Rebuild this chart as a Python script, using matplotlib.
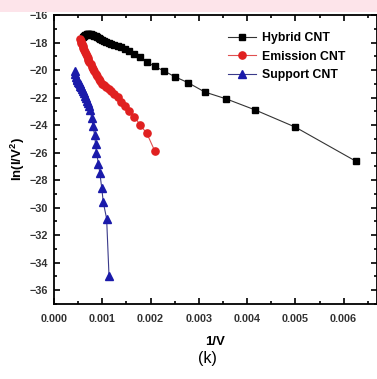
import matplotlib
matplotlib.use("Agg")
import matplotlib.pyplot as plt
from matplotlib.patches import Rectangle
from matplotlib.ticker import MultipleLocator, FormatStrFormatter

plt.rcParams['font.family'] = ['Liberation Sans', 'DejaVu Sans']
plt.rcParams['mathtext.fontset'] = 'custom'
plt.rcParams['mathtext.rm'] = 'Liberation Sans:bold'
plt.rcParams['mathtext.it'] = 'Liberation Sans:bold'
plt.rcParams['mathtext.bf'] = 'Liberation Sans:bold'

# Hybrid CNT
hybrid_x = [0.000610, 0.000625, 0.000641, 0.000658, 0.000676, 0.000694, 0.000714, 0.000735,
            0.000758, 0.000781, 0.000806, 0.000833, 0.000862, 0.000893, 0.000926, 0.000962,
            0.001000, 0.001042, 0.001087, 0.001136, 0.001190, 0.001250, 0.001316, 0.001389,
            0.001471, 0.001563, 0.001667, 0.001786, 0.001923, 0.002083, 0.002273, 0.002500,
            0.002778, 0.003125, 0.003571, 0.004167, 0.005000, 0.006250]
hybrid_y = [-17.60, -17.52, -17.46, -17.42, -17.40, -17.38, -17.38, -17.39,
            -17.41, -17.44, -17.47, -17.51, -17.56, -17.62, -17.68, -17.74,
            -17.80, -17.87, -17.95, -18.03, -18.10, -18.18, -18.26, -18.35,
            -18.48, -18.65, -18.85, -19.05, -19.40, -19.74, -20.05, -20.48,
            -20.92, -21.60, -22.10, -22.90, -24.15, -26.62]

# Emission CNT
emission_x = [0.000543, 0.000556, 0.000568, 0.000581, 0.000595, 0.000610, 0.000625, 0.000641,
              0.000658, 0.000676, 0.000694, 0.000714, 0.000735, 0.000758, 0.000781, 0.000806,
              0.000833, 0.000862, 0.000893, 0.000926, 0.000962, 0.001000, 0.001042, 0.001087,
              0.001136, 0.001190, 0.001250, 0.001316, 0.001389, 0.001471, 0.001563, 0.001667,
              0.001786, 0.001923, 0.002083]
emission_y = [-17.75, -17.88, -18.00, -18.12, -18.25, -18.38, -18.52, -18.66,
              -18.80, -18.95, -19.10, -19.26, -19.42, -19.58, -19.75, -19.92,
              -20.10, -20.28, -20.46, -20.64, -20.82, -21.00, -21.10, -21.22,
              -21.36, -21.52, -21.72, -21.98, -22.30, -22.62, -22.95, -23.40,
              -24.00, -24.60, -25.85]

# Support CNT
support_x = [0.000430, 0.000440, 0.000455, 0.000470, 0.000485, 0.000500, 0.000515, 0.000530,
             0.000545, 0.000560, 0.000580, 0.000600, 0.000620, 0.000640, 0.000660, 0.000680,
             0.000700, 0.000720, 0.000750, 0.000780, 0.000810, 0.000840, 0.000860, 0.000880,
             0.000920, 0.000950, 0.000990, 0.001020, 0.001090, 0.001140]
support_y = [-20.10, -20.30, -20.48, -20.62, -20.74, -20.84, -20.94, -21.04,
             -21.14, -21.24, -21.38, -21.52, -21.70, -21.88, -22.05, -22.22,
             -22.40, -22.60, -22.90, -23.50, -24.10, -24.70, -25.35, -26.00,
             -26.80, -27.50, -28.60, -29.60, -30.80, -35.00]

labels = ['Hybrid CNT', 'Emission CNT', 'Support CNT']
x_ticks = [0.000, 0.001, 0.002, 0.003, 0.004, 0.005, 0.006]
y_ticks = [-16, -18, -20, -22, -24, -26, -28, -30, -32, -34, -36]

W, H = 377, 379
fig = plt.figure(figsize=(W/100, H/100), dpi=100)
fig.patches.append(Rectangle((0, 1 - 12/H), 1, 12/H, transform=fig.transFigure,
                             facecolor='#fde4ea', edgecolor='none', zorder=0))
ax = fig.add_axes([54/W, 75/H, (W-54)/W, (304-15)/H])

ax.plot(hybrid_x, hybrid_y, color='#333333', lw=0.8, marker='s', ms=4.5,
        mfc='black', mec='black', label=labels[0])
ax.plot(emission_x, emission_y, color='#e05050', lw=0.8, marker='o', ms=5.2,
        mfc='#e02020', mec='#e02020', label=labels[1])
ax.plot(support_x, support_y, color='#3a3a8a', lw=0.8, marker='^', ms=5.5,
        mfc='#1a1aaa', mec='#1a1aaa', label=labels[2])

ax.set_xlim(0, 0.00669)
ax.set_ylim(-37, -16)
ax.set_xticks(x_ticks)
ax.set_yticks(y_ticks)
ax.xaxis.set_minor_locator(MultipleLocator(0.0005))
ax.yaxis.set_minor_locator(MultipleLocator(1))
ax.xaxis.set_major_formatter(FormatStrFormatter('%.3f'))
ax.tick_params(which='both', direction='in', top=True, right=True, width=1.2,
               labelsize=7.8)
ax.tick_params(axis='x', which='major', pad=7)
ax.tick_params(axis='y', which='major', pad=4)
ax.tick_params(which='major', length=4)
ax.tick_params(which='minor', length=2.5)
for lab in ax.get_xticklabels() + ax.get_yticklabels():
    lab.set_fontweight('bold')
    lab.set_color('#333333')
for s in ax.spines.values():
    s.set_linewidth(1.3)

ax.set_xlabel('1/V', fontsize=9.5, fontweight='bold', labelpad=9)
ax.set_ylabel(r'ln(I/V$^2$)', fontsize=9.5, fontweight='bold', labelpad=2)
fig.text(207/W, 1 - 358/H, '(k)', fontsize=11.5,
         ha='center', va='center', transform=fig.transFigure)

leg = ax.legend(loc='upper left', bbox_to_anchor=((228-54)/(W-54), 1 - (32-15)/(304-15)),
                frameon=False, handlelength=2.3, labelspacing=0.55, handletextpad=0.5,
                borderaxespad=0, borderpad=0,
                prop={'weight': 'bold', 'size': 8.8})

fig.savefig('out.png', dpi=100)
